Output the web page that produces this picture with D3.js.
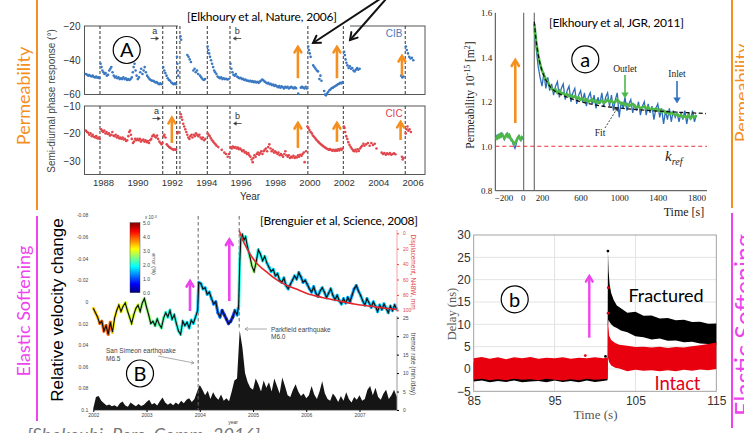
<!DOCTYPE html>
<html>
<head>
<meta charset="utf-8">
<script src="https://cdn.jsdelivr.net/npm/d3@7"></script>
<style>
body { margin: 0; background: #fff; }
svg { display: block; }
</style>
</head>
<body>
<svg id="fig" width="744" height="433"></svg>
<script>
/* ---- panel A : semi-diurnal phase response, CIB / CIC ---- */
var yearTicksA = [1988, 1990, 1992, 1994, 1996, 1998, 2000, 2002, 2004, 2006];
var quakeYearsA = [1987.82, 1991.47, 1992.28, 1992.47, 1994.06, 1995.38, 1999.91, 2001.97, 2005.57];
var cibPts = [
  [1987.0,-48],[1987.07,-48.5],[1987.14,-49],[1987.2,-48.6],[1987.27,-49.2],[1987.34,-49.5],[1987.4,-49],[1987.47,-49.8],[1987.54,-50],[1987.6,-49.5],[1987.67,-50.2],[1987.74,-50],[1987.8,-50.5],
  [1987.86,-42],[1987.91,-44],[1987.96,-46],[1988.02,-47],[1988.08,-48],[1988.15,-47.5],[1988.22,-49],[1988.29,-48.5],[1988.36,-46],[1988.42,-45],[1988.48,-44],[1988.55,-47],[1988.62,-49],[1988.69,-50],[1988.76,-49.5],[1988.83,-50.5],[1988.9,-50],[1988.97,-51],[1989.04,-50.5],[1989.11,-51],[1989.18,-50],[1989.25,-51],[1989.32,-50.5],[1989.39,-51.5],[1989.46,-51],[1989.53,-51.5],[1989.6,-51],[1989.67,-50],[1989.73,-47],[1989.78,-44],[1989.83,-42],[1989.89,-46],[1989.95,-49],[1990.02,-51],[1990.09,-50],[1990.16,-47],[1990.22,-45],[1990.29,-48],[1990.36,-46],[1990.42,-44],[1990.49,-47],[1990.56,-49],[1990.63,-50],[1990.7,-51],[1990.77,-51.5],[1990.84,-52],[1990.91,-52],[1990.98,-52.5],[1991.05,-53],[1991.12,-52.8],[1991.19,-53.5],[1991.26,-54],[1991.33,-53.5],[1991.4,-54],
  [1991.5,-44],[1991.56,-46],[1991.62,-47.5],[1991.69,-49],[1991.76,-50.5],[1991.83,-51.5],[1991.9,-52],[1991.97,-53],[1992.04,-53.5],[1992.11,-54],[1992.18,-53.5],[1992.24,-54],
  [1992.3,-38],[1992.32,-42],[1992.34,-46],[1992.37,-49],[1992.5,-26],[1992.54,-28],
  [1992.9,-37],[1992.97,-38],[1993.04,-39.5],[1993.11,-41],[1993.25,-46],[1993.32,-45],[1993.39,-47],[1993.46,-46],[1993.53,-48],[1993.64,-49],[1993.71,-50],[1993.78,-51],[1993.86,-51.5],[1993.93,-51],
  [1994.08,-32],[1994.12,-34],[1994.17,-36],[1994.22,-38],[1994.28,-40],[1994.34,-42],[1994.4,-44],[1994.46,-46],[1994.52,-47],[1994.59,-48],[1994.66,-49.5],[1994.73,-50],[1994.8,-50.5],[1994.87,-50],[1994.94,-51],[1995.01,-50.5],[1995.08,-51],[1995.15,-50.8],[1995.22,-51.2],[1995.3,-51],
  [1995.41,-42],[1995.46,-45],[1995.52,-47],[1995.58,-48.5],[1995.65,-49],[1995.72,-48],[1995.79,-49.5],[1995.86,-50],[1995.93,-50.5],[1996.0,-50.2],[1996.07,-51],[1996.14,-50.8],[1996.21,-51.5],[1996.28,-51.2],[1996.35,-52],[1996.42,-51.8],[1996.49,-52.3],[1996.56,-52],[1996.63,-52.5],[1996.7,-52.2],[1996.77,-52.8],[1996.84,-52.5],[1996.91,-53],[1996.98,-52.6],[1997.05,-53.2],[1997.12,-52.5],[1997.19,-51.8],[1997.26,-51.2],[1997.33,-51.8],[1997.4,-52.5],[1997.47,-53],[1997.54,-53.5],[1997.61,-53.2],[1997.68,-54],[1997.75,-53.8],[1997.82,-54.5],[1997.89,-54.2],[1997.96,-55],[1998.03,-54.5],[1998.1,-55.2],[1998.17,-55.8],[1998.24,-55],[1998.31,-56],[1998.38,-55.2],[1998.45,-55.8],[1998.52,-56.5],[1998.59,-55.5],[1998.66,-56],[1998.73,-55.5],[1998.8,-56.5],[1998.87,-56],[1998.94,-55.5],[1999.01,-56],[1999.08,-56.5],[1999.15,-55.8],[1999.22,-56.3],[1999.35,-59.5],[1999.5,-56],[1999.57,-55.5],[1999.64,-56],[1999.71,-56.5],[1999.78,-55.5],[1999.85,-56.5],
  [1999.93,-32],[1999.97,-34],[2000.02,-36],[2000.07,-38],[2000.22,-43],[2000.29,-44],[2000.36,-45],[2000.43,-46],[2000.5,-46.5],[2000.58,-51],[2000.64,-49],[2000.7,-52],[2000.86,-58],[2000.91,-60],[2000.96,-60.5],[2001.02,-59.5],[2001.09,-58.5],[2001.16,-57.5],[2001.23,-57],[2001.3,-56.2],[2001.37,-56],[2001.44,-55.5],[2001.51,-55],[2001.58,-54.6],[2001.65,-54],[2001.72,-53.8],[2001.79,-53.2],[2001.86,-53.5],[2001.93,-52.8],
  [2002.02,-35],[2002.06,-37],[2002.1,-39.5],[2002.15,-41.5],[2002.21,-43],[2002.28,-44.5],[2002.35,-43.5],[2002.42,-45],[2002.49,-44.5],[2002.56,-46],[2002.63,-46.5],[2002.7,-45.5],[2002.77,-44.5],[2002.84,-45.5],[2002.92,-45],
  [2005.33,-49],[2005.4,-50],[2005.47,-49.5],
  [2005.61,-32],[2005.66,-34],[2005.73,-36],[2005.8,-38],[2005.88,-39],[2005.96,-38.5],[2006.04,-40]
];
var cicPts = [
  [1987.0,-19],[1987.07,-19.5],[1987.14,-19.8],[1987.2,-20.5],[1987.27,-20],[1987.34,-21],[1987.4,-20.5],[1987.47,-21.2],[1987.54,-21.5],[1987.6,-21],[1987.67,-21.8],[1987.74,-21.5],[1987.8,-22],
  [1987.88,-18.5],[1987.94,-19],[1988.0,-19.5],[1988.07,-19],[1988.14,-20],[1988.2,-19.5],[1988.27,-20.2],[1988.34,-20],[1988.4,-20.8],[1988.47,-20.5],[1988.54,-19.5],[1988.6,-20.8],[1988.67,-21],[1988.74,-20.5],[1988.8,-21.5],[1988.87,-21],[1988.94,-21.8],[1989.0,-21.5],[1989.07,-22],[1989.14,-21.5],[1989.2,-22.2],[1989.27,-22],[1989.34,-22.8],[1989.4,-22.5],[1989.47,-21],[1989.52,-19.5],[1989.57,-19],[1989.62,-20.5],[1989.67,-22],[1989.74,-23.5],[1989.8,-23],[1989.87,-22],[1989.94,-22.5],[1990.0,-22],[1990.07,-22.5],[1990.14,-22],[1990.2,-23],[1990.27,-22.5],[1990.34,-22.2],[1990.4,-23],[1990.47,-22.5],[1990.54,-23.2],[1990.6,-22.8],[1990.67,-23.5],[1990.74,-22.5],[1990.8,-22],[1990.87,-21],[1990.94,-20.5],[1991.0,-21],[1991.07,-21.5],[1991.14,-20.8],[1991.2,-22],[1991.27,-23],[1991.34,-23.5],[1991.4,-24],[1991.45,-23.5],
  [1991.52,-21],[1991.57,-20.5],[1991.63,-21.5],[1991.7,-24],[1991.77,-24.5],[1991.84,-25],[1991.9,-25.2],[1991.97,-25.5],[1992.04,-25.8],[1992.1,-26],[1992.17,-25.8],[1992.24,-26],
  [1992.32,-20],[1992.36,-19.5],
  [1992.52,-13],[1992.56,-14],[1992.6,-15],[1992.66,-16.5],[1992.72,-17.5],[1992.78,-18.5],[1992.84,-19.5],[1992.9,-20.5],[1992.96,-21.5],[1993.02,-22],[1993.08,-21],[1993.14,-20.5],[1993.2,-21.5],[1993.27,-20.5],[1993.34,-21],[1993.4,-20],[1993.47,-20.5],[1993.54,-21],[1993.6,-20.5],[1993.67,-21.5],[1993.74,-22],[1993.8,-21.5],[1993.87,-22.5],[1993.94,-22],
  [1994.08,-20],[1994.14,-20.5],[1994.2,-21],[1994.27,-21.8],[1994.34,-22.5],[1994.4,-23],[1994.47,-23.5],[1994.54,-24],[1994.6,-24.5],[1994.7,-25],[1994.9,-26],[1995.05,-27],[1995.15,-27.5],[1995.25,-28.5],[1995.32,-27.5],
  [1995.42,-25],[1995.48,-25.5],[1995.55,-24.8],[1995.62,-25.2],[1995.7,-25],[1995.77,-25.5],[1995.84,-25.2],[1995.9,-25.8],[1995.97,-25.5],[1996.04,-26],[1996.1,-26.5],[1996.17,-26.2],[1996.24,-27],[1996.3,-26.8],[1996.37,-27.5],[1996.44,-27.2],[1996.5,-28],[1996.57,-28.5],[1996.64,-29.5],[1996.7,-30.5],[1996.74,-29],[1996.8,-28],[1996.87,-28.5],[1996.94,-27.5],[1997.0,-27],[1997.07,-27.8],[1997.14,-27.2],[1997.2,-26.5],[1997.27,-27.5],[1997.34,-26.5],[1997.4,-26],[1997.47,-25.5],[1997.54,-26.5],[1997.6,-25],[1997.67,-24],[1997.74,-25.5],[1997.8,-26.5],[1997.87,-26],[1997.94,-27],[1998.0,-26.5],[1998.07,-27],[1998.14,-27.5],[1998.2,-27],[1998.27,-28],[1998.34,-27.5],[1998.4,-28],[1998.47,-28.5],[1998.54,-27.5],[1998.6,-26.5],[1998.67,-28],[1998.74,-28.5],[1998.8,-28],[1998.87,-29],[1998.94,-28.5],[1999.0,-28.8],[1999.07,-28.2],[1999.14,-29],[1999.2,-28.5],[1999.27,-28.8],[1999.34,-28],[1999.4,-28.5],[1999.47,-27.8],[1999.54,-28.2],[1999.6,-27.5],[1999.67,-27],[1999.72,-30.5],[1999.8,-26.5],
  [1999.88,-17.5],[1999.94,-18],[2000.0,-18.8],[2000.07,-19.5],[2000.14,-20],[2000.2,-20.8],[2000.27,-21.2],[2000.34,-21.8],[2000.4,-22.3],[2000.47,-22.8],[2000.54,-23.2],[2000.6,-23.6],[2000.67,-24],[2000.74,-24.3],[2000.8,-24.7],[2000.87,-25],[2000.94,-25.3],[2001.0,-25.5],[2001.07,-25.8],[2001.14,-26],[2001.2,-25.7],[2001.27,-26.1],[2001.34,-26.3],[2001.4,-26],[2001.47,-26.4],[2001.54,-26],[2001.6,-26.3],[2001.67,-25.8],[2001.74,-26.2],[2001.8,-25.6],[2001.87,-26],[2001.93,-25.5],
  [2002.0,-17.5],[2002.04,-18],[2002.08,-19.5],[2002.14,-21],[2002.2,-22],[2002.26,-23.2],[2002.33,-24.2],[2002.4,-25],[2002.47,-25.6],[2002.54,-26.2],[2002.6,-26.5],[2002.67,-26],[2002.74,-26.6],[2002.8,-25.8],[2002.87,-26.4],[2002.94,-25.5],[2003.0,-25],[2003.07,-24.5],[2003.14,-23.8],[2003.2,-24.5],
  [2003.3,-24],[2003.4,-23.5],[2003.5,-24.5],[2003.6,-23.5],[2003.7,-24.2],[2003.8,-23.8],[2003.9,-25.5],[2004.2,-27],[2004.28,-27.5],[2004.36,-27.2],[2004.44,-27.8],[2004.52,-27.3],[2004.6,-27.6],[2004.68,-27.2],[2004.76,-27.8],[2004.84,-27.5],[2004.92,-27.3],[2005.0,-27.6],[2005.38,-28.5],[2005.42,-29.5],[2005.47,-29],
  [2005.6,-20],[2005.65,-18.5],[2005.7,-17.5],[2005.76,-19],[2005.82,-18.5],[2005.9,-19.5]
];

/* ---- panel a : lab permeability, Elkhoury 2011 ---- */
var aTicksX = [-200, 0, 200, 600, 1000, 1400, 1800];
var aTicksY = [0.8, 1.0, 1.2, 1.4, 1.6];
var aEvents = [10, 120];
var aGreenPre = [1.04,1.035,1.045,1.04,1.05,1.045,1.055,1.05,1.045,1.035,1.04,1.05,1.055,1.045,1.05,1.04,1.03,1.025,1.02,1.01,1.015,1.02,1.03,1.04,1.045,1.035,1.03,1.04,1.035];
var aBluePre = [1.03,1.045,1.035,1.05,1.04,1.055,1.045,1.06,1.04,1.03,1.045,1.055,1.045,1.04,1.055,1.035,1.025,1.03,1.01,1.0,0.99,1.005,1.025,1.035,1.05,1.03,1.025,1.045,1.03];
var aGreenPost = [1.55,1.47,1.41,1.37,1.34,1.32,1.30,1.29,1.27,1.26,1.25,1.255,1.24,1.25,1.235,1.24,1.23,1.235,1.225,1.23,1.22,1.225,1.215,1.22,1.21,1.215,1.205,1.21,1.20,1.205,1.21,1.20,1.205,1.195,1.20,1.205,1.195,1.20,1.21,1.20,1.205,1.195,1.20,1.21,1.20,1.19,1.195,1.185,1.19,1.18,1.185,1.19,1.18,1.175,1.18,1.17,1.175,1.18,1.17,1.175,1.165,1.17,1.165,1.17,1.16,1.165,1.155,1.16,1.15,1.155,1.145,1.15,1.145,1.14,1.145,1.135,1.14,1.13,1.135,1.13,1.14,1.125,1.135,1.13,1.14];
var aBluePost = [1.52,1.44,1.36,1.31,1.27,1.33,1.26,1.31,1.25,1.28,1.23,1.27,1.29,1.22,1.26,1.28,1.21,1.25,1.27,1.20,1.24,1.26,1.19,1.23,1.25,1.20,1.24,1.18,1.22,1.24,1.19,1.23,1.17,1.22,1.19,1.24,1.18,1.22,1.24,1.18,1.23,1.16,1.21,1.24,1.13,1.20,1.17,1.22,1.16,1.19,1.21,1.15,1.19,1.16,1.20,1.14,1.18,1.20,1.14,1.19,1.15,1.18,1.12,1.17,1.19,1.13,1.17,1.10,1.16,1.12,1.17,1.11,1.16,1.13,1.15,1.11,1.15,1.12,1.16,1.10,1.15,1.12,1.16,1.11,1.14];
var aFit = [[120,1.56],[135,1.49],[150,1.44],[175,1.38],[200,1.34],[250,1.29],[300,1.26],[400,1.232],[500,1.214],[600,1.2],[700,1.19],[800,1.182],[1000,1.172],[1200,1.164],[1400,1.158],[1600,1.153],[1800,1.149],[1900,1.147]];

/* ---- panel B : Parkfield velocity change, Brenguier 2008 ---- */
var yearTicksB = [2002, 2003, 2004, 2005, 2006, 2007];
var dvTicks = [-0.08, -0.06, -0.04, -0.02, 0, 0.02, 0.04, 0.06, 0.08, 0.1];
var dispTicks = [0, 20, 40, 60, 80, 100];
var tremorTicks = [0, 5, 10, 15, 20, 25];
var errTicks = [0, 1, 2, 3, 4, 5];
var quakesB = [2003.97, 2004.74];
var velPts = [
  [2002.00,0.006],[2002.04,0.010],[2002.08,0.014],[2002.12,0.020],[2002.16,0.018],[2002.20,0.027],[2002.24,0.022],[2002.28,0.030],[2002.32,0.019],[2002.36,0.028],[2002.40,0.015],[2002.44,0.008],[2002.48,0.003],[2002.52,0.009],[2002.56,0.004],[2002.60,0.001],[2002.64,0.008],[2002.68,0.014],[2002.72,0.020],[2002.76,0.012],[2002.80,0.006],[2002.84,0.003],[2002.88,0.009],[2002.92,0.001],[2002.96,-0.003],
  [2003.00,0.005],[2003.04,0.012],[2003.08,0.020],[2003.12,0.018],[2003.16,0.022],[2003.20,0.016],[2003.24,0.021],[2003.28,0.024],[2003.32,0.015],[2003.36,0.010],[2003.40,0.014],[2003.44,0.008],[2003.48,0.016],[2003.52,0.012],[2003.56,0.020],[2003.60,0.027],[2003.64,0.030],[2003.68,0.018],[2003.72,0.022],[2003.76,0.019],[2003.80,0.024],[2003.84,0.017],[2003.88,0.020],[2003.92,0.014],[2003.96,0.008],
  [2003.98,-0.018],[2004.02,-0.017],[2004.06,-0.012],[2004.10,-0.013],[2004.14,-0.007],[2004.18,-0.009],[2004.22,-0.003],[2004.26,0.002],[2004.30,0.000],[2004.34,0.010],[2004.38,0.014],[2004.42,0.008],[2004.46,0.012],[2004.50,0.016],[2004.54,0.020],[2004.58,0.018],[2004.62,0.014],[2004.66,0.008],[2004.70,0.012],[2004.73,0.004],
  [2004.75,-0.035],[2004.77,-0.058],[2004.80,-0.062],[2004.83,-0.057],[2004.86,-0.060],[2004.90,-0.050],[2004.94,-0.042],[2004.98,-0.033],[2005.02,-0.028],[2005.06,-0.037],[2005.10,-0.048],[2005.14,-0.044],[2005.18,-0.038],[2005.22,-0.042],[2005.26,-0.036],[2005.30,-0.032],[2005.34,-0.028],[2005.38,-0.030],[2005.42,-0.024],[2005.46,-0.026],[2005.50,-0.020],[2005.54,-0.018],[2005.58,-0.022],[2005.62,-0.015],[2005.66,-0.012],[2005.70,-0.016],[2005.74,-0.020],[2005.78,-0.024],[2005.82,-0.021],[2005.86,-0.027],[2005.90,-0.023],[2005.94,-0.018],[2005.98,-0.020],
  [2006.02,-0.016],[2006.06,-0.012],[2006.10,-0.009],[2006.14,-0.014],[2006.18,-0.008],[2006.22,-0.005],[2006.26,-0.010],[2006.30,-0.013],[2006.34,-0.009],[2006.38,-0.004],[2006.42,-0.008],[2006.46,-0.012],[2006.50,-0.006],[2006.54,-0.002],[2006.58,-0.006],[2006.62,-0.001],[2006.66,0.002],[2006.70,-0.003],[2006.74,0.001],[2006.78,-0.004],[2006.82,0.000],[2006.86,-0.006],[2006.90,-0.012],[2006.94,-0.015],[2006.98,-0.010],
  [2007.02,-0.006],[2007.06,-0.001],[2007.10,0.003],[2007.14,-0.003],[2007.18,0.001],[2007.22,0.005],[2007.26,0.000],[2007.30,0.004],[2007.34,0.009],[2007.38,0.003],[2007.42,0.007],[2007.46,0.002],[2007.50,0.006],[2007.54,0.010],[2007.58,0.004],[2007.62,0.008],[2007.66,0.003],[2007.70,0.007]
];
// error (x1e-3 %) from this year on
var velErrBreaks = [[2002.0,3.4],[2002.15,3.9],[2002.4,3.2],[2002.6,2.9],[2002.9,2.6],[2003.1,2.3],[2003.4,2.0],[2003.7,1.8],[2003.97,1.6],[2004.3,1.2],[2004.45,0.8],[2004.7,1.5],[2004.75,2.0],[2004.95,2.6],[2005.1,1.9],[2005.3,1.7],[2005.6,1.6],[2005.9,1.5],[2006.3,1.6],[2006.8,1.4],[2007.0,1.6]];
var velFit = [[2004.74,-0.066],[2004.8,-0.058],[2004.9,-0.048],[2005.0,-0.040],[2005.1,-0.034],[2005.25,-0.028],[2005.4,-0.022],[2005.6,-0.016],[2005.8,-0.012],[2006.0,-0.008],[2006.3,-0.004],[2006.6,-0.001],[2006.9,0.002],[2007.2,0.004],[2007.5,0.006],[2007.7,0.007]];
// tremor rate, min/day, one value every 0.05 yr from 2002.00
var tremor = [0.5,3.5,3.8,2.5,1.8,1.2,1.5,1.0,1.3,0.8,1.8,2.3,1.2,0.9,2.0,1.5,1.0,1.6,1.1,1.4,
  2.2,2.8,1.5,1.9,1.2,2.4,3.4,2.0,1.4,1.9,1.3,2.0,1.5,2.5,1.8,2.8,3.2,2.2,3.0,5.0,
  6.8,5.5,4.0,5.2,3.0,4.8,3.5,2.8,4.2,2.5,3.2,2.4,5.0,8.0,8.5,21.5,17.0,10.0,7.5,6.0,
  5.5,8.5,7.0,5.0,8.0,6.0,7.5,5.0,8.5,6.5,4.5,8.8,6.5,4.0,3.5,5.5,7.0,5.0,3.8,4.5,
  3.2,4.0,6.5,4.2,3.0,5.0,7.8,4.5,3.0,2.5,4.5,3.5,2.2,3.8,2.5,4.8,3.0,2.0,3.5,2.8,
  4.0,2.5,3.0,5.5,6.5,4.0,6.0,3.5,2.8,4.5,5.5,3.0,4.0,5.5,3.5];

/* ---- panel b : lab delay, fractured vs intact ---- */
var bTicksX = [85, 95, 105, 115];
var bTicksY = [-5, 0, 5, 10, 15, 20, 25, 30];
var fracBand = [
  [85,-2.8,1.5],[86,-2.6,1.6],[87,-3.0,1.4],[88,-2.7,1.6],[89,-2.9,1.5],[90,-2.6,1.7],[91,-3.0,1.5],[92,-2.8,1.6],[93,-2.7,1.4],[94,-3.0,1.6],[95,-2.6,1.5],[96,-2.9,1.7],[97,-2.7,1.5],[98,-3.0,1.6],[99,-2.6,1.5],[100,-2.9,1.7],[101,-2.7,1.6],[101.55,-2.5,1.8],
  [101.6,9.6,26.4],[101.68,11,22],[101.8,10.5,19],[102.0,10,17],[102.3,9.5,15.5],[102.7,9.2,14.2],[103.2,8.6,13.6],[104,8.2,12.6],[105,7.3,12.8],[106,7.1,11.9],[107,6.6,12.0],[108,6.8,11.3],[109,6.3,11.4],[110,6.4,10.9],[111,6.0,11.0],[112,6.1,10.5],[113,5.7,10.6],[114,5.6,10.1],[115,5.3,10.2]
];
var intactBand = [
  [85,-2.4,2.4],[86,-2.2,2.7],[87,-2.5,2.3],[88,-2.3,2.6],[89,-2.5,2.2],[90,-2.2,2.6],[91,-2.4,2.4],[92,-2.3,2.7],[93,-2.5,2.3],[94,-2.2,2.5],[95,-2.4,2.4],[96,-2.6,2.6],[97,-2.3,2.3],[98,-2.5,2.5],[99,-2.2,2.4],[100,-2.4,2.6],[101,-2.3,2.4],[101.55,-2.2,2.5],
  [101.6,2.5,10.8],[101.75,1.5,7.5],[102,0.8,6.5],[102.5,0.3,5.8],[103,0.1,5.4],[104,-0.5,5.2],[105,-0.2,4.9],[106,-0.4,5.0],[107,-0.3,4.8],[108,-0.5,5.0],[109,-0.3,4.7],[110,-0.5,4.9],[111,-0.2,4.8],[112,-0.4,5.1],[113,-0.1,5.3],[114,-0.3,5.6],[115,0.0,5.9]
];
var fracDots = [[101.6,26.4],[101.3,2.8],[114.3,9.6],[112.2,3.9]];
var intactDots = [[101.62,12.5],[101.64,18.2],[98.8,3.0]];

var ORANGE = '#F4901F', MAGENTA = '#EE44EE';
var SANS = '"Liberation Sans", Arial, sans-serif', CAL = 'Lato, "Open Sans", sans-serif', SERIF = '"Liberation Serif", "Times New Roman", serif';

var svg = d3.select('#fig');
svg.append('rect').attr('width', 744).attr('height', 433).attr('fill', '#fff');

function arrow(g, x1, y1, x2, y2, color, w, head, filled, dash) {
    var ang = Math.atan2(y2 - y1, x2 - x1), sp = 0.55;
    var hx1 = x2 - head * Math.cos(ang - sp), hy1 = y2 - head * Math.sin(ang - sp);
    var hx2 = x2 - head * Math.cos(ang + sp), hy2 = y2 - head * Math.sin(ang + sp);
    var ex = filled ? x2 - head * 0.8 * Math.cos(ang) : x2, ey = filled ? y2 - head * 0.8 * Math.sin(ang) : y2;
    g.append('line').attr('x1', x1).attr('y1', y1).attr('x2', ex).attr('y2', ey)
        .attr('stroke', color).attr('stroke-width', w).attr('stroke-dasharray', dash || null);
    g.append('path').attr('d', 'M' + hx1 + ',' + hy1 + 'L' + x2 + ',' + y2 + 'L' + hx2 + ',' + hy2 + (filled ? 'Z' : ''))
        .attr('fill', filled ? color : 'none').attr('stroke', color).attr('stroke-width', filled ? 0.5 : w)
        .attr('stroke-linecap', 'round');
}

function circLabel(x, y, t) {
    svg.append('circle').attr('cx', x).attr('cy', y).attr('r', 13.5)
        .attr('fill', '#fff').attr('stroke', '#000').attr('stroke-width', 1.2);
    svg.append('text').attr('x', x).attr('y', y).attr('dy', '0.36em').attr('text-anchor', 'middle')
        .style('font', '20px ' + CAL).text(t);
}

function sideLabel(x, y, t, color, size) {
    svg.append('text').attr('transform', 'translate(' + x + ',' + y + ') rotate(-90)')
        .attr('text-anchor', 'middle').style('font', size + 'px ' + CAL).attr('fill', color).text(t);
}

function styleAxis(g, font, color) {
    g.select('.domain').remove();
    g.selectAll('text').style('font', font).attr('fill', color);
}

/* side labels (the right-hand ones run off the page, as in the slide) */
sideLabel(30, 96, 'Permeability', ORANGE, 18);
sideLabel(30, 311, 'Elastic Softening', MAGENTA, 18);
sideLabel(748, 93, 'Permeability', ORANGE, 18);
sideLabel(753, 325, 'Elastic Softening', MAGENTA, 25);
svg.append('line').attr('x1', 37).attr('x2', 37).attr('y1', 0).attr('y2', 210).attr('stroke', ORANGE).attr('stroke-width', 2);
svg.append('line').attr('x1', 37).attr('x2', 37).attr('y1', 216).attr('y2', 421).attr('stroke', MAGENTA).attr('stroke-width', 2);
svg.append('line').attr('x1', 732).attr('x2', 732).attr('y1', 0).attr('y2', 208).attr('stroke', ORANGE).attr('stroke-width', 2);
svg.append('line').attr('x1', 732).attr('x2', 732).attr('y1', 213).attr('y2', 428).attr('stroke', MAGENTA).attr('stroke-width', 2);

/* ================= panel A ================= */
var gA = svg.append('g');
var xA = d3.scaleLinear().domain([1986.92, 2006.72]).range([84.5, 425]);
var yCIB = d3.scaleLinear().domain([-60, -20]).range([94.5, 26]);
var yCIC = d3.scaleLinear().domain([-35, -10]).range([174.5, 106]);

[yCIB, yCIC].forEach(function (y) {
    gA.append('rect').attr('x', 84.5).attr('y', y.range()[1]).attr('width', 340.5)
        .attr('height', y.range()[0] - y.range()[1]).attr('fill', 'none').attr('stroke', '#555').attr('stroke-width', 1);
});
// citation box hides part of the top frame
gA.append('rect').attr('x', 178).attr('y', 8).attr('width', 172).attr('height', 19).attr('fill', '#fff');
gA.append('text').attr('x', 187).attr('y', 21).attr('textLength', 150).style('font', '12px ' + CAL)
    .text('[Elkhoury et al, Nature, 2006]');

[yCIB, yCIC].forEach(function (y) {
    gA.selectAll(null).data(quakeYearsA).enter().append('line')
        .attr('x1', function (d) { return xA(d); }).attr('x2', function (d) { return xA(d); })
        .attr('y1', y.range()[1]).attr('y2', y.range()[0])
        .attr('stroke', '#333').attr('stroke-width', 1).attr('stroke-dasharray', '3,2');
});

gA.selectAll(null).data(cibPts).enter().append('circle')
    .attr('cx', function (d) { return xA(d[0]); }).attr('cy', function (d) { return yCIB(d[1]); })
    .attr('r', 1.3).attr('fill', '#3A78C2');
gA.selectAll(null).data(cicPts).enter().append('circle')
    .attr('cx', function (d) { return xA(d[0]); }).attr('cy', function (d) { return yCIC(d[1]); })
    .attr('r', 1.3).attr('fill', '#E0464C');

gA.append('g').attr('transform', 'translate(0,174.5)')
    .call(d3.axisBottom(xA).tickValues(yearTicksA).tickSize(0).tickPadding(5).tickFormat(d3.format('d')))
    .call(styleAxis, '9.5px ' + SANS, '#333');
gA.append('g').attr('transform', 'translate(84.5,0)')
    .call(d3.axisLeft(yCIB).tickValues([-20, -40, -60]).tickSize(0).tickPadding(4))
    .call(styleAxis, '10px ' + SANS, '#333');
gA.append('g').attr('transform', 'translate(84.5,0)')
    .call(d3.axisLeft(yCIC).tickValues([-10, -20, -30]).tickSize(0).tickPadding(4))
    .call(styleAxis, '10px ' + SANS, '#333');
gA.append('text').attr('x', 250).attr('y', 200).attr('text-anchor', 'middle')
    .style('font', '10px ' + SANS).attr('fill', '#333').text('Year');
gA.append('text').attr('transform', 'translate(55,101) rotate(-90)').attr('text-anchor', 'middle')
    .style('font', '10px ' + SANS).attr('fill', '#444').text('Semi-diurnal phase response (°)');
gA.append('text').attr('x', 394).attr('y', 37).attr('text-anchor', 'middle')
    .style('font', '10px ' + SANS).attr('fill', '#4A7CC0').text('CIB');
gA.append('text').attr('x', 394).attr('y', 117).attr('text-anchor', 'middle')
    .style('font', '10px ' + SANS).attr('fill', '#D9434A').text('CIC');

// "a" / "b" markers with little arrows: [year, baseline, direction, label]
[[1991.0, 34, 1, 'a'], [1995.8, 34, -1, 'b'], [1991.1, 114, 1, 'a'], [1995.82, 119, -1, 'b']].forEach(function (m) {
    var x = xA(m[0]);
    gA.append('text').attr('x', x).attr('y', m[1]).attr('text-anchor', 'middle')
        .style('font', '9px ' + SANS).attr('fill', '#333').text(m[3]);
    var y = m[1] + 4.5;
    arrow(gA, x - 4 * m[2], y, x + 4 * m[2], y, '#333', 0.8, 3, true);
});

// orange arrows
[[1999.33, yCIB, -50.5, -32.2], [2001.6, yCIB, -50.5, -32.2], [2005.38, yCIB, -49, -37.5],
 [1992.0, yCIC, -23.5, -14.3], [1999.33, yCIC, -25.3, -16.2], [2001.6, yCIC, -23.1, -16.2], [2005.3, yCIC, -22.4, -15.8]].forEach(function (o) {
    arrow(gA, xA(o[0]), o[1](o[2]), xA(o[0]), o[1](o[3]), ORANGE, 2.6, 6.5);
});
// black pointer arrows from the top
arrow(gA, 380, -1, 313, 43, '#111', 2, 8);
arrow(gA, 386, -1, 350, 40, '#111', 2, 8);
circLabel(126.7, 50, 'A');

/* ================= panel a ================= */
var ga = svg.append('g');
var xa = d3.scaleLinear().domain([-284, 1910]).range([495.3, 707]);
var ya = d3.scaleLinear().domain([0.8, 1.6]).range([190.7, 12.8]);

ga.append('line').attr('x1', 495.3).attr('x2', 495.3).attr('y1', 12.8).attr('y2', 190.7).attr('stroke', '#444');
ga.append('line').attr('x1', 495.3).attr('x2', 707).attr('y1', 190.7).attr('y2', 190.7).attr('stroke', '#444');
ga.append('g').attr('transform', 'translate(0,190.7)')
    .call(d3.axisBottom(xa).tickValues(aTicksX).tickSize(0).tickPadding(4).tickFormat(d3.format('d')))
    .call(styleAxis, '9px ' + SERIF, '#222');
ga.append('g').attr('transform', 'translate(495.3,0)')
    .call(d3.axisLeft(ya).tickValues(aTicksY).tickSize(0).tickPadding(3).tickFormat(d3.format('.1f')))
    .call(styleAxis, '9px ' + SERIF, '#222');
ga.selectAll(null).data(aEvents).enter().append('line')
    .attr('x1', function (d) { return xa(d); }).attr('x2', function (d) { return xa(d); })
    .attr('y1', 12.8).attr('y2', 190.7).attr('stroke', '#666').attr('stroke-width', 1.1);
ga.append('line').attr('x1', 495.3).attr('x2', xa(1910)).attr('y1', ya(1)).attr('y2', ya(1))
    .attr('stroke', '#E8303A').attr('stroke-width', 1.2).attr('stroke-dasharray', '4,3');

var lineA = d3.line().x(function (d) { return xa(d[0]); }).y(function (d) { return ya(d[1]); });
function withT(vals, t0, dt) { return vals.map(function (v, i) { return [t0 + dt * i, v]; }); }
ga.append('path').datum(withT(aBluePre, -280, 10)).attr('d', lineA).attr('fill', 'none').attr('stroke', '#2D6DB8').attr('stroke-width', 1.3);
ga.append('path').datum(withT(aBluePost, 120, 20)).attr('d', lineA).attr('fill', 'none').attr('stroke', '#2D6DB8').attr('stroke-width', 1.3);
ga.append('path').datum(withT(aGreenPre, -280, 10)).attr('d', lineA).attr('fill', 'none').attr('stroke', '#4DB848').attr('stroke-width', 2.6);
ga.append('path').datum(withT(aGreenPost, 120, 20)).attr('d', lineA).attr('fill', 'none').attr('stroke', '#4DB848').attr('stroke-width', 2.6);
ga.append('path').datum(aFit).attr('d', lineA.curve(d3.curveMonotoneX)).attr('fill', 'none')
    .attr('stroke', '#111').attr('stroke-width', 1.3).attr('stroke-dasharray', '4,2.5');

ga.append('text').attr('transform', 'translate(474,95) rotate(-90)').attr('text-anchor', 'middle')
    .style('font', '11.5px ' + SERIF).attr('fill', '#222')
    .call(function (t) {
        t.append('tspan').text('Permeability  10');
        t.append('tspan').attr('dy', -4).style('font-size', '8px').text('-15');
        t.append('tspan').attr('dy', 4).text('  [m');
        t.append('tspan').attr('dy', -4).style('font-size', '8px').text('2');
        t.append('tspan').attr('dy', 4).text(']');
    });
ga.append('text').attr('x', 684).attr('y', 215.5).attr('text-anchor', 'middle').style('font', '12px ' + SERIF).attr('fill', '#222').text('Time [s]');
ga.append('text').attr('x', 549).attr('y', 27).attr('textLength', 135).style('font', '12px ' + CAL).text('[Elkhoury et al, JGR, 2011]');
ga.append('text').attr('x', 665).attr('y', 161).style('font', 'italic 15px ' + SERIF).attr('fill', '#222')
    .call(function (t) {
        t.append('tspan').text('k');
        t.append('tspan').attr('dy', 4).style('font-size', '10px').text('ref');
    });
ga.append('text').attr('x', 625).attr('y', 71.5).attr('text-anchor', 'middle').style('font', '9.5px ' + SERIF).attr('fill', '#222').text('Outlet');
arrow(ga, 625, 75, 625, 98, '#4DB848', 1.6, 6, true);
ga.append('text').attr('x', 677).attr('y', 77).attr('text-anchor', 'middle').style('font', '9.5px ' + SERIF).attr('fill', '#222').text('Inlet');
arrow(ga, 677, 81, 677, 103, '#2F6FC0', 1.6, 6, true);
ga.append('text').attr('x', 600).attr('y', 136).attr('text-anchor', 'middle').style('font', '9.5px ' + SERIF).attr('fill', '#222').text('Fit');
arrow(ga, 605, 128, 618, 107, '#333', 0.9, 4, true, '2,1.5');
arrow(ga, 515.3, 123, 515.3, 60, ORANGE, 2.6, 7);
circLabel(585.3, 59.3, 'a');

/* ================= panel B ================= */
var gB = svg.append('g');
var xB = d3.scaleLinear().domain([2002, 2007]).range([93.3, 359.5]);
var yB = d3.scaleLinear().domain([-0.08, 0.1]).range([215.3, 410]);
var yDisp = d3.scaleLinear().domain([0, 100]).range([233.3, 310.3]);
var yTr = d3.scaleLinear().domain([0, 25]).range([410, 317.7]);
var jetStops = [0, 0.625, 1.875, 3.125, 4.375, 5];
var jetCols = ['#00007F', '#0000FF', '#00FFFF', '#FFFF00', '#FF0000', '#7F0000'];
var jet = d3.scaleLinear().domain(jetStops).range(jetCols);

gB.append('text').attr('x', 260).attr('y', 225).attr('textLength', 158).style('font', '12px ' + CAL).text('[Brenguier et al, Science, 2008]');

// tremor rate
var tremorPts = tremor.map(function (v, i) { return [2002 + 0.05 * i, v]; });
gB.append('path').datum(tremorPts)
    .attr('d', d3.area().x(function (d) { return xB(d[0]); }).y0(410).y1(function (d) { return yTr(d[1]); }))
    .attr('fill', '#151515');

// dashed quake lines
gB.selectAll(null).data(quakesB).enter().append('line')
    .attr('x1', function (d) { return xB(d); }).attr('x2', function (d) { return xB(d); })
    .attr('y1', 216).attr('y2', function (d, i) { return i === 0 ? 410 : 330; })
    .attr('stroke', '#666').attr('stroke-width', 1).attr('stroke-dasharray', '3.5,2.5');

// velocity change: coloured markers by error, black line through
function errAt(yr) {
    var e = velErrBreaks[0][1];
    velErrBreaks.forEach(function (b) { if (yr >= b[0]) { e = b[1]; } });
    return e;
}
var velPlot = velPts.filter(function (d) { return d[0] <= 2007.7; });
gB.selectAll(null).data(d3.pairs(velPlot)).enter().append('line')
    .attr('x1', function (d) { return xB(d[0][0]); }).attr('y1', function (d) { return yB(d[0][1]); })
    .attr('x2', function (d) { return xB(d[1][0]); }).attr('y2', function (d) { return yB(d[1][1]); })
    .attr('stroke', function (d) { return jet(errAt(d[1][0])); }).attr('stroke-width', 3.2)
    .attr('stroke-linecap', 'round').attr('stroke-opacity', 0.85);
gB.append('path').datum(velPlot)
    .attr('d', d3.line().x(function (d) { return xB(d[0]); }).y(function (d) { return yB(d[1]); }))
    .attr('fill', 'none').attr('stroke', '#111').attr('stroke-width', 1.2);
gB.append('path').datum(velFit)
    .attr('d', d3.line().curve(d3.curveMonotoneX).x(function (d) { return xB(d[0]); }).y(function (d) { return yB(d[1]); }))
    .attr('fill', 'none').attr('stroke', '#E3262E').attr('stroke-width', 1.6);

// axes
gB.append('line').attr('x1', 93.3).attr('x2', 397).attr('y1', 410).attr('y2', 410).attr('stroke', '#333').attr('stroke-width', 0.8);
gB.append('g').attr('transform', 'translate(0,410)')
    .call(d3.axisBottom(xB).tickValues(yearTicksB).tickSize(2).tickPadding(1).tickFormat(d3.format('d')))
    .call(styleAxis, '5px ' + SANS, '#444');
gB.append('g').attr('transform', 'translate(93.3,0)')
    .call(d3.axisLeft(yB).tickValues(dvTicks).tickSize(0).tickPadding(5).tickFormat(function (d) { return String(d); }))
    .call(styleAxis, '5px ' + SANS, '#444');
gB.append('line').attr('x1', 397).attr('x2', 397).attr('y1', 230).attr('y2', 312).attr('stroke', '#E66').attr('stroke-width', 0.6);
gB.append('g').attr('transform', 'translate(397,0)')
    .call(d3.axisRight(yDisp).tickValues(dispTicks).tickSize(2).tickPadding(4))
    .call(styleAxis, '5px ' + SANS, '#E0474C')
    .call(function (g) { g.selectAll('line').attr('stroke', '#E0474C'); });
gB.append('line').attr('x1', 397).attr('x2', 397).attr('y1', 316).attr('y2', 410).attr('stroke', '#555').attr('stroke-width', 0.6);
gB.append('g').attr('transform', 'translate(397,0)')
    .call(d3.axisRight(yTr).tickValues(tremorTicks).tickSize(2).tickPadding(4))
    .call(styleAxis, '5px ' + SANS, '#444');
gB.append('text').attr('transform', 'translate(411,272) rotate(90)').attr('text-anchor', 'middle')
    .style('font', '6.5px ' + SANS).attr('fill', '#E0474C').text('Displacement, N48W, mm');
gB.append('text').attr('transform', 'translate(411,364) rotate(90)').attr('text-anchor', 'middle')
    .style('font', '6.5px ' + SANS).attr('fill', '#444').text('tremor rate (min./day)');
gB.append('text').attr('x', 233).attr('y', 424).attr('text-anchor', 'middle').style('font', '5px ' + SANS).attr('fill', '#444').text('year');

// colour bar
var grad = svg.append('defs').append('linearGradient').attr('id', 'jetbar')
    .attr('x1', 0).attr('y1', 1).attr('x2', 0).attr('y2', 0);
jetStops.forEach(function (s, i) { grad.append('stop').attr('offset', s / 5).attr('stop-color', jetCols[i]); });
var yErr = d3.scaleLinear().domain([0, 5]).range([292.5, 222.7]);
gB.append('rect').attr('x', 130).attr('y', 222.7).attr('width', 10).attr('height', 70)
    .attr('fill', 'url(#jetbar)').attr('stroke', '#333').attr('stroke-width', 0.4);
gB.append('g').attr('transform', 'translate(140,0)')
    .call(d3.axisRight(yErr).tickValues(errTicks).tickSize(0).tickPadding(3))
    .call(styleAxis, '5px ' + SANS, '#444');
gB.append('text').attr('x', 145).attr('y', 219).style('font', '4.5px ' + SANS).attr('fill', '#444')
    .call(function (t) {
        t.append('tspan').text('x 10');
        t.append('tspan').attr('dy', -1.5).style('font-size', '3.5px').text('-3');
    });
gB.append('text').attr('transform', 'translate(151.5,264) rotate(90)').attr('text-anchor', 'middle')
    .style('font', '5.5px ' + SANS).attr('fill', '#444').text('error (%)');

// annotations
gB.append('text').attr('x', 106).attr('y', 353).style('font', '6.5px ' + SANS).attr('fill', '#444').text('San Simeon earthquake');
gB.append('text').attr('x', 106).attr('y', 360.5).style('font', '6.5px ' + SANS).attr('fill', '#444').text('M6.5');
arrow(gB, 158, 356, 194, 363, '#888', 0.7, 3);
gB.append('text').attr('x', 271).attr('y', 331.5).style('font', '6.5px ' + SANS).attr('fill', '#444').text('Parkfield earthquake');
gB.append('text').attr('x', 271).attr('y', 339).style('font', '6.5px ' + SANS).attr('fill', '#444').text('M6.0');
arrow(gB, 267, 329, 245, 329, '#888', 0.7, 3);
gB.append('text').attr('transform', 'translate(63,310) rotate(-90)').attr('text-anchor', 'middle')
    .style('font', '17px ' + SANS).attr('fill', '#000').text('Relative velocity change');
arrow(gB, 190, 311, 190, 281, MAGENTA, 2.6, 6.5);
arrow(gB, 229.3, 301, 229.3, 239.5, MAGENTA, 2.6, 6.5);
circLabel(140, 373.5, 'B');
svg.append('text').attr('x', 27).attr('y', 441).attr('textLength', 233).style('font', 'italic 18px ' + CAL)
    .attr('fill', '#777').text('[Shokouhi, Pers. Comm. 2016]');

/* ================= panel b ================= */
var gb = svg.append('g');
var xb = d3.scaleLinear().domain([85, 115]).range([473.7, 716.3]);
var yb = d3.scaleLinear().domain([-5, 30]).range([391.3, 235]);

gb.selectAll(null).data(bTicksX.slice(1, -1)).enter().append('line')
    .attr('x1', function (d) { return xb(d); }).attr('x2', function (d) { return xb(d); })
    .attr('y1', 235).attr('y2', 391.3).attr('stroke', '#e3e3e3');
gb.selectAll(null).data(bTicksY.slice(1, -1)).enter().append('line')
    .attr('y1', function (d) { return yb(d); }).attr('y2', function (d) { return yb(d); })
    .attr('x1', 473.7).attr('x2', 716.3).attr('stroke', '#e3e3e3');
gb.append('rect').attr('x', 473.7).attr('y', 235).attr('width', 242.6).attr('height', 156.3)
    .attr('fill', 'none').attr('stroke', '#999').attr('stroke-width', 0.9);

var band = d3.area().x(function (d) { return xb(d[0]); }).y0(function (d) { return yb(d[1]); }).y1(function (d) { return yb(d[2]); });
gb.append('path').datum(fracBand).attr('d', band).attr('fill', '#000');
gb.selectAll(null).data(fracDots).enter().append('circle')
    .attr('cx', function (d) { return xb(d[0]); }).attr('cy', function (d) { return yb(d[1]); }).attr('r', 1.4).attr('fill', '#000');
gb.append('path').datum(intactBand).attr('d', band).attr('fill', '#E8000F');
gb.selectAll(null).data(intactDots).enter().append('circle')
    .attr('cx', function (d) { return xb(d[0]); }).attr('cy', function (d) { return yb(d[1]); }).attr('r', 1.4).attr('fill', '#E8000F');

gb.append('g').attr('transform', 'translate(0,391.3)')
    .call(d3.axisBottom(xb).tickValues(bTicksX).tickSize(0).tickPadding(5))
    .call(styleAxis, '12px ' + SANS, '#333');
gb.append('g').attr('transform', 'translate(473.7,0)')
    .call(d3.axisLeft(yb).tickValues(bTicksY).tickSize(0).tickPadding(3))
    .call(styleAxis, '12px ' + SANS, '#333');
gb.append('text').attr('transform', 'translate(455.5,314) rotate(-90)').attr('text-anchor', 'middle')
    .style('font', '12.5px ' + SERIF).attr('fill', '#555').text('Delay (ns)');
gb.append('text').attr('x', 595.5).attr('y', 418.5).attr('text-anchor', 'middle')
    .style('font', '13px ' + SERIF).attr('fill', '#555').text('Time (s)');
gb.append('text').attr('x', 666).attr('y', 302).attr('text-anchor', 'middle').attr('textLength', 75)
    .style('font', '18px ' + CAL).attr('fill', '#000').text('Fractured');
gb.append('text').attr('x', 677.5).attr('y', 390).attr('text-anchor', 'middle').attr('textLength', 46)
    .style('font', '18.5px ' + CAL).attr('fill', '#E2001A').text('Intact');
arrow(gb, 589.3, 337.7, 589.3, 276, MAGENTA, 2.4, 6.5);
circLabel(514.7, 299.3, 'b');
</script>
</body>
</html>
